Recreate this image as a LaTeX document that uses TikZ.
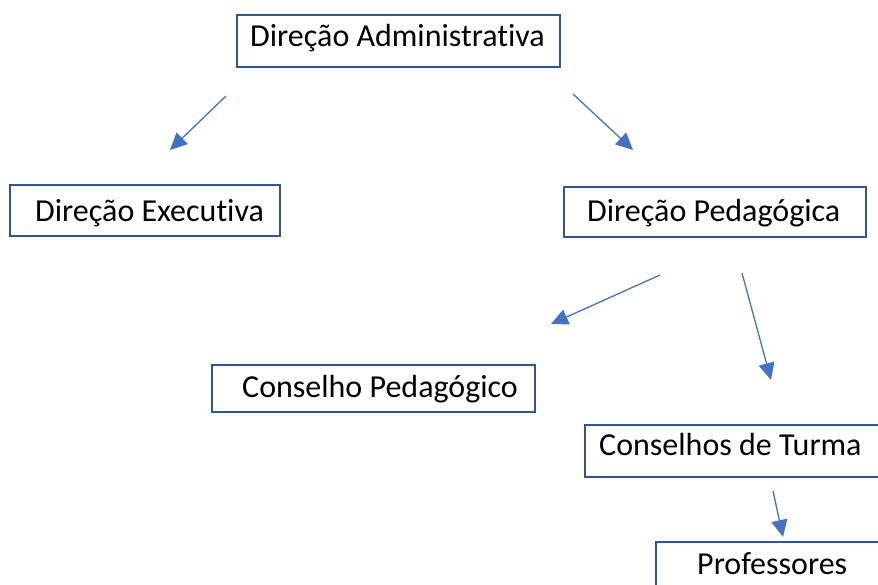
\documentclass[tikz,border=0pt]{standalone}
\usepackage{fontspec}
\setmainfont[Ligatures=NoCommon]{Carlito}
\usetikzlibrary{arrows.meta}
\definecolor{boxblue}{HTML}{2F5597}
\definecolor{arrblue}{HTML}{4472C4}
\begin{document}
\begin{tikzpicture}[x=1pt,y=-1pt,
  boxstyle/.style={draw=boxblue,line width=2.2pt},
  lbl/.style={anchor=base west,inner sep=0pt,font=\fontsize{32}{38}\selectfont},
  arr/.style={draw=arrblue,line width=1.3pt,-{Triangle[length=17pt,width=16pt]}}]
\useasboundingbox (0,0) rectangle (878,585);
\clip (0,0) rectangle (878,585);
% boxes
\draw[boxstyle] (237,15) rectangle (560,67);
\draw[boxstyle] (10,185) rectangle (280,236);
\draw[boxstyle] (564,187) rectangle (866,237);
\draw[boxstyle] (212,365) rectangle (535,412);
\draw[boxstyle] (585,425) rectangle (900,477);
\draw[boxstyle] (656,542) rectangle (900,600);
% labels
\node[lbl] (adm) at (250,47) {Direção Administrativa};
\node[lbl] (exe) at (35,222) {Direção Executiva};
\node[lbl] (ped) at (587,222) {Direção Pedagógica};
\node[lbl] (cped) at (242,397) {Conselho Pedagógico};
\node[lbl] (ct) at (599,455) {Conselhos de Turma};
\node[lbl] (prof) at (697,574) {Professores};
% arrows
\coordinate (a1s) at (226,96); \coordinate (a1e) at (170,150);
\coordinate (a2s) at (573,94); \coordinate (a2e) at (633,150);
\coordinate (a3s) at (660,275); \coordinate (a3e) at (551,324);
\coordinate (a4s) at (742,273); \coordinate (a4e) at (771,380);
\coordinate (a5s) at (773,491); \coordinate (a5e) at (783,537);
\draw[arr] (a1s) -- (a1e);
\draw[arr] (a2s) -- (a2e);
\draw[arr] (a3s) -- (a3e);
\draw[arr] (a4s) -- (a4e);
\draw[arr] (a5s) -- (a5e);
\end{tikzpicture}
\end{document}
